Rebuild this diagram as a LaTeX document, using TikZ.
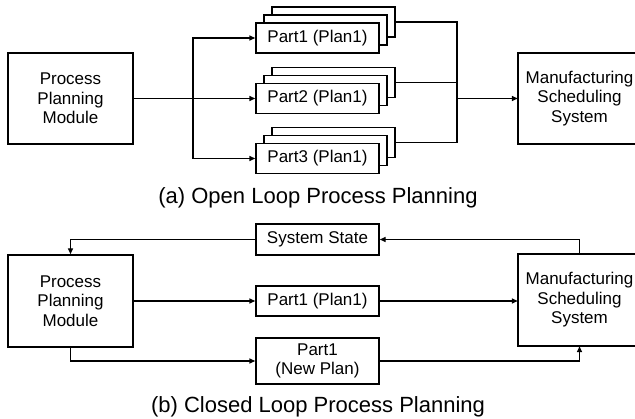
\documentclass[tikz,border=0pt]{standalone}
\usepackage{fontspec}
\setmainfont{Liberation Sans}
\usetikzlibrary{arrows.meta}
\tikzset{
  box/.style={draw, line width=1.4pt, fill=white, align=center, inner sep=0pt,
    font=\fontsize{17}{19.5}\selectfont},
  bigbox/.style={box, minimum width=125pt, minimum height=91pt},
  opentext/.style={align=center, inner sep=0pt, font=\fontsize{17}{19.5}\selectfont},
  openbox/.style={line width=1.4pt},
  partbox/.style={box, minimum width=123pt, minimum height=30pt},
  link/.style={line width=1.4pt},
  arr/.style={link, -{Triangle[length=6pt,width=5pt]}},
  caption/.style={font=\fontsize{22}{26}\selectfont}
}
\begin{document}
\begin{tikzpicture}[x=1pt,y=-1pt]
\useasboundingbox (0,0) rectangle (635,419);

% ---------- (a) open loop ----------
\node[bigbox] (ppm) at (70.5,98.5) {Process\\Planning\\Module};
% the scheduling box is open on the right: it runs off the margin
\node[opentext, minimum width=123pt, minimum height=91pt] (mss) at (579.5,98.5) {Manufacturing\\Scheduling\\System};
\draw[openbox] (635,53) -- (518,53) -- (518,144) -- (635,144);

% stacked plan sheets: two sheets behind each front sheet
\foreach \n/\y in {1/38,2/98.5,3/158.5}{
  \node[partbox] (p\n c) at (333.5,\y-16) {};
  \node[partbox] (p\n b) at (325.5,\y-8) {};
  \node[partbox] (p\n) at (317.5,\y) {Part\n\ (Plan1)};
}

\coordinate (jl) at (193,98.5);
\coordinate (jr) at (457,98.5);

\draw[arr] (ppm.east) -- (p2.west);
\draw[arr] (jl) |- (p1.west);
\draw[arr] (jl) |- (p3.west);
\draw[link] (p1c.east) -| (jr);
\draw[link] (p3c.east) -| (jr);
\draw[link] (p2c.east) -- (p2c.east -| jr);
\draw[arr] (jr) -- (mss.west);

\node[caption] (capa) at (318,198) {(a) Open Loop Process Planning};

% ---------- (b) closed loop ----------
\node[bigbox, minimum height=92pt] (ppm2) at (70.5,301) {Process\\Planning\\Module};
\node[opentext, minimum width=123pt, minimum height=92pt] (mss2) at (579.5,300) {Manufacturing\\Scheduling\\System};
\draw[openbox] (635,254) -- (518,254) -- (518,346) -- (635,346);
\node[partbox, minimum height=31pt] (ss) at (317.5,239.5) {System State};
\node[partbox] (p1n) at (317.5,301) {Part1 (Plan1)};
\node[partbox, minimum height=46pt] (np) at (317.5,361) {Part1\\(New Plan)};

\draw[arr] (ppm2.east) -- (p1n.west);
\draw[arr] (ppm2.south) |- (np.west);
\draw[arr] (ss.west) -| (ppm2.north);
\draw[arr] (mss2.north) |- (ss.east);
\draw[arr] (p1n.east) -- (p1n.east -| mss2.west);
\draw[arr] (np.east) -| (mss2.south);

\node[caption] (capb) at (318,407) {(b) Closed Loop Process Planning};
\end{tikzpicture}
\end{document}
